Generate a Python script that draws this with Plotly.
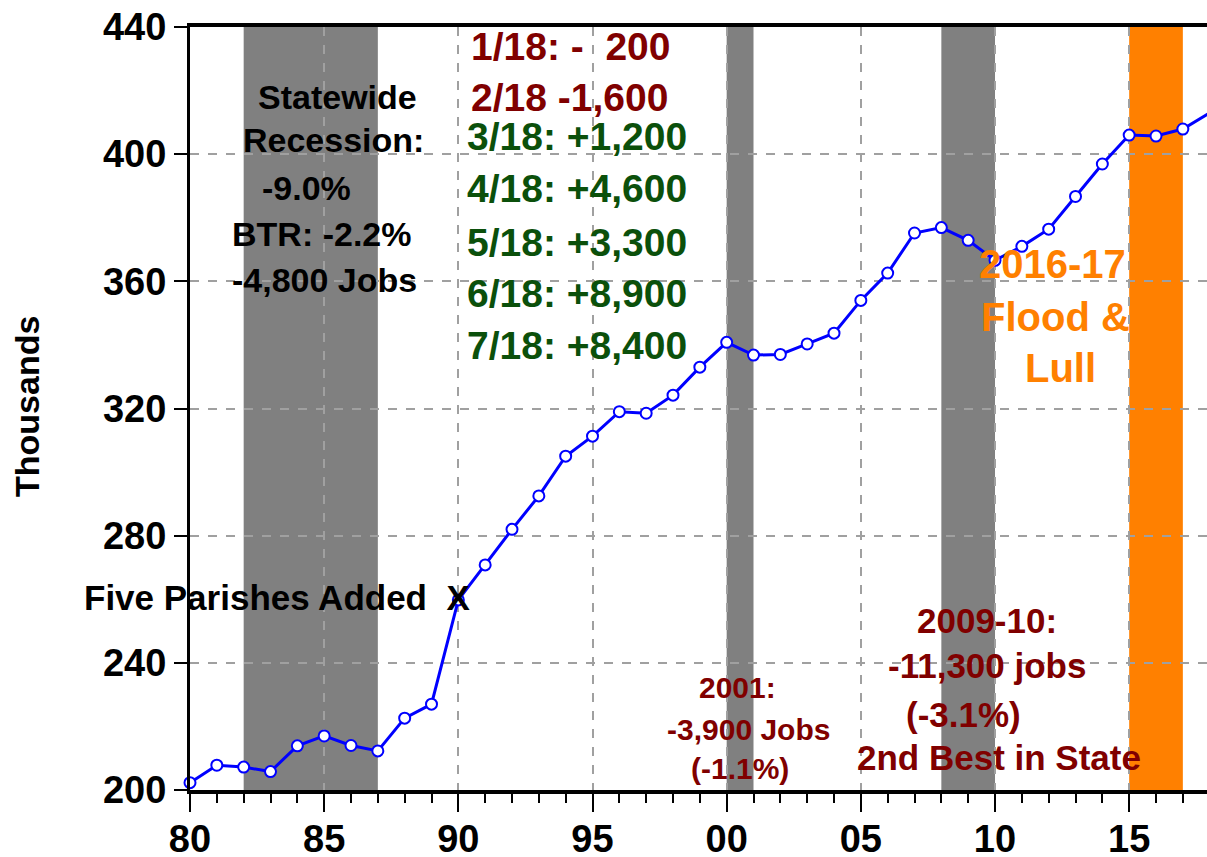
#!/usr/bin/env python3

import plotly.graph_objs as go

# annual employment, thousands
years = list(range(1980, 2019))
jobs = [202.3, 207.8, 207.2, 205.8, 213.9, 217.0, 214.0, 212.3, 222.6, 227.0,
        259.8, 270.8, 282.0, 292.5, 305.0, 311.3, 319.0, 318.5, 324.2, 333.0,
        340.8, 336.8, 337.0, 340.3, 343.7, 354.0, 362.6, 375.2, 376.9, 372.9,
        366.6, 371.0, 376.4, 386.7, 396.9, 406.0, 405.7, 407.9, 413.0]

# shaded periods
recession_start = [1982, 2000, 2008]
recession_end = [1987, 2001, 2010]
flood_start = [2015]
flood_end = [2017]

tick_years = [1980, 1985, 1990, 1995, 2000, 2005, 2010, 2015]
tick_labels = ["80", "85", "90", "95", "00", "05", "10", "15"]
y_ticks = [200, 240, 280, 320, 360, 400, 440]

FONT = "Liberation Sans, Arial, sans-serif"
RED = "#800000"
GREEN = "#0B500B"
ORANGE = "#FF8000"

# plot box in pixels (for text placement)
L, R, T, B = 190, 1207, 27, 790


def px(x, y):
    return (x - L) / (R - L), (B - y) / (B - T)


fig = go.Figure()

for x0, x1 in zip(recession_start, recession_end):
    fig.add_shape(type="rect", xref="x", yref="paper", x0=x0, x1=x1, y0=0, y1=1,
                  fillcolor="#808080", line_width=0, layer="below")
for x0, x1 in zip(flood_start, flood_end):
    fig.add_shape(type="rect", xref="x", yref="paper", x0=x0, x1=x1, y0=0, y1=1,
                  fillcolor=ORANGE, line_width=0, layer="below")

fig.add_trace(go.Scatter(
    x=years, y=jobs, mode="lines+markers", cliponaxis=False,
    line=dict(color="#0000FF", width=3),
    marker=dict(symbol="circle", size=11, color="white",
                line=dict(color="#0000FF", width=2)),
    showlegend=False))

# text: (text, px x, px y, color, size, anchor)
notes = [
    ("Statewide", 337, 97, "black", 34, "center"),
    ("Recession:", 333, 140, "black", 34, "center"),
    ("-9.0%", 306, 188, "black", 34, "center"),
    ("BTR: -2.2%", 321, 234, "black", 34, "center"),
    ("-4,800 Jobs", 324, 280, "black", 34, "center"),
    ("1/18: -\u00a0\u00a0200", 469, 46, RED, 39, "left"),
    ("2/18 -1,600", 469, 97, RED, 39, "left"),
    ("3/18: +1,200", 465, 137, GREEN, 39, "left"),
    ("4/18: +4,600", 465, 189, GREEN, 39, "left"),
    ("5/18: +3,300", 465, 242, GREEN, 39, "left"),
    ("6/18: +8,900", 465, 293, GREEN, 39, "left"),
    ("7/18: +8,400", 465, 345, GREEN, 39, "left"),
    ("2016-17", 1052, 264, ORANGE, 40, "center"),
    ("Flood &", 1055, 317, ORANGE, 40, "center"),
    ("Lull", 1060, 368, ORANGE, 40, "center"),
    ("Five Parishes Added\u00a0\u00a0X", 82, 597, "black", 35, "left"),
    ("2001:", 737, 687, RED, 30, "center"),
    ("-3,900 Jobs", 748, 729, RED, 30, "center"),
    ("(-1.1%)", 740, 768, RED, 30, "center"),
    ("2009-10:", 987, 620, RED, 35, "center"),
    ("-11,300 jobs", 987, 665, RED, 35, "center"),
    ("(-3.1%)", 963, 714, RED, 35, "center"),
    ("2nd Best in State", 999, 757, RED, 35, "center"),
]
for text, x, y, color, size, anchor in notes:
    ax, ay = px(x, y)
    fig.add_annotation(text=text, xref="paper", yref="paper", x=ax, y=ay,
                       xanchor=anchor, yanchor="middle", showarrow=False,
                       font=dict(family=FONT, size=size, color=color, weight="bold"))

ax, ay = px(27, 407)
fig.add_annotation(text="Thousands", xref="paper", yref="paper", x=ax, y=ay,
                   xanchor="center", yanchor="middle", textangle=-90, showarrow=False,
                   font=dict(family=FONT, size=34, color="black", weight="bold"))

fig.update_xaxes(
    range=[1980, 2017.9], tickvals=tick_years, ticktext=tick_labels,
    ticks="outside", ticklen=18, tickwidth=2, tickcolor="black",
    showline=True, linewidth=4, linecolor="black", mirror=True,
    showgrid=True, gridcolor="#A0A0A0", griddash="dash", gridwidth=1.5,
    zeroline=False, automargin=False, ticklabelstandoff=-6,
    minor=dict(dtick=1, ticks="outside", ticklen=9, tickwidth=1.5,
               tickcolor="black", showgrid=False),
    tickfont=dict(family=FONT, size=38, color="black", weight="bold"))

fig.update_yaxes(
    range=[200, 440], tickvals=y_ticks,
    ticks="outside", ticklen=13, tickwidth=1.5, tickcolor="black",
    showline=True, linewidth=3, linecolor="black", mirror=False,
    showgrid=True, gridcolor="#A0A0A0", griddash="dash", gridwidth=1.5,
    zeroline=False, automargin=False,
    tickfont=dict(family=FONT, size=38, color="black", weight="bold"))

fig.update_layout(
    template=go.layout.Template(),
    width=1207, height=857,
    margin=dict(l=L, r=1207 - R, t=T, b=857 - B, pad=0),
    paper_bgcolor="white", plot_bgcolor="white",
    showlegend=False)

# page body has a default margin; drop it so the figure sits at the corner
fig.write_html("out.html", config={"displayModeBar": False},
               post_script="document.body.style.margin='0px';")
